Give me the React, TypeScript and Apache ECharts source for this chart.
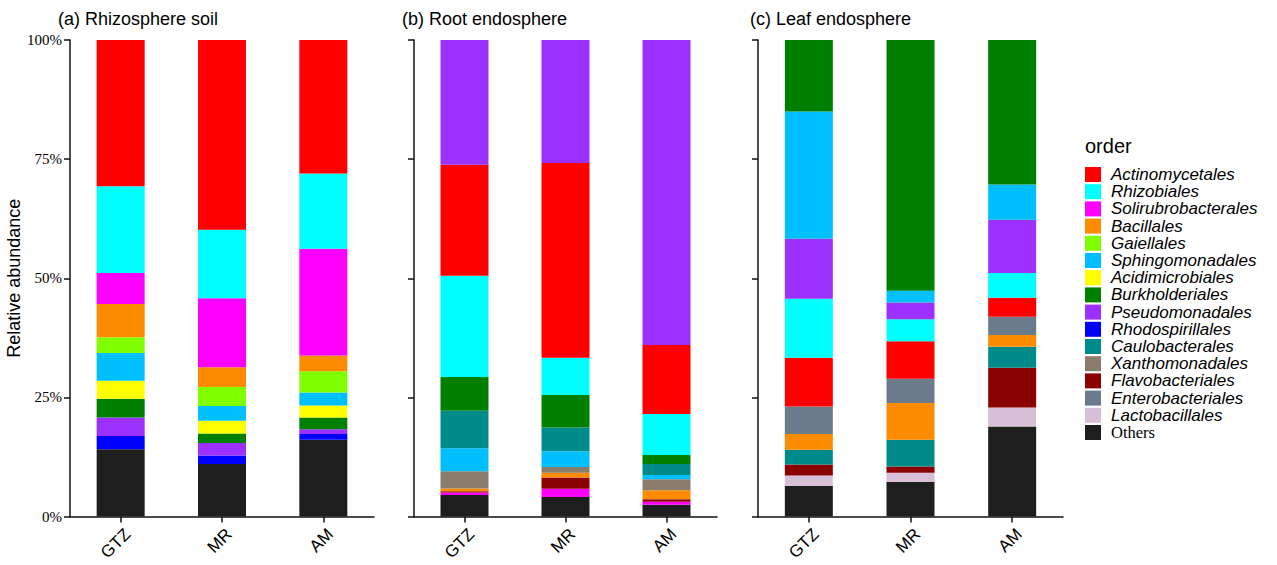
import React, { useEffect, useRef } from "react";
import * as echarts from "echarts";

const categories = ["GTZ", "MR", "AM"];
const yTicks = [0, 25, 50, 75, 100];
const panelTitles = ["(a) Rhizosphere soil", "(b) Root endosphere", "(c) Leaf endosphere"];

const legendOrders = [
  "Actinomycetales", "Rhizobiales", "Solirubrobacterales", "Bacillales", "Gaiellales",
  "Sphingomonadales", "Acidimicrobiales", "Burkholderiales", "Pseudomonadales",
  "Rhodospirillales", "Caulobacterales", "Xanthomonadales", "Flavobacteriales",
  "Enterobacteriales", "Lactobacillales", "Others",
];
const orderColors = [
  "#FF0000", "#00FFFF", "#FF00FF", "#FF8C00", "#7FFF00",
  "#00BFFF", "#FFFF00", "#008000", "#9B30FF",
  "#0000FF", "#008B8B", "#8B7D6B", "#8B0000",
  "#6C7B8B", "#D8BFD8", "#1E1E1E",
];

// stacking order bottom-up, values for GTZ, MR, AM (%)
const soilNames = ["Others", "Rhodospirillales", "Pseudomonadales", "Burkholderiales", "Acidimicrobiales",
  "Sphingomonadales", "Gaiellales", "Bacillales", "Solirubrobacterales", "Rhizobiales", "Actinomycetales"];
const soilValues = [
  [14.1, 11.0, 16.1], [2.8, 1.8, 1.2], [3.9, 2.6, 1.0], [3.9, 2.0, 2.5], [3.8, 2.7, 2.5],
  [5.8, 3.1, 2.7], [3.3, 4.0, 4.5], [7.0, 4.1, 3.3], [6.5, 14.5, 22.4], [18.2, 14.4, 15.8], [30.7, 39.8, 28.0],
];

const rootNames = ["Others", "Solirubrobacterales", "Flavobacteriales", "Bacillales", "Xanthomonadales",
  "Sphingomonadales", "Caulobacterales", "Burkholderiales", "Rhizobiales", "Actinomycetales", "Pseudomonadales"];
const rootValues = [
  [4.5, 4.1, 2.45], [0.55, 1.7, 0.65], [0.25, 2.4, 0.5], [0.6, 1.0, 1.9], [3.6, 1.2, 2.3],
  [4.8, 3.3, 0.9], [7.9, 5.0, 2.3], [7.1, 6.8, 1.9], [21.2, 7.8, 8.6], [23.3, 40.9, 14.5], [26.2, 25.8, 64.0],
];

const leafNames = ["Others", "Lactobacillales", "Flavobacteriales", "Caulobacterales", "Bacillales",
  "Enterobacteriales", "Actinomycetales", "Rhizobiales", "Pseudomonadales", "Sphingomonadales", "Burkholderiales"];
const leafValues = [
  [6.4, 7.3, 18.9], [2.2, 1.9, 4.0], [2.3, 1.3, 8.3], [3.1, 5.6, 4.4], [3.3, 7.7, 2.5],
  [5.8, 5.1, 3.8], [10.2, 7.9, 4.0], [12.4, 4.6, 5.2], [12.6, 3.5, 11.2], [26.7, 2.5, 7.4], [15.0, 52.6, 30.3],
];

const SANS = "'Liberation Sans', Arial, sans-serif";
const SERIF = "'Liberation Serif', 'Times New Roman', serif";

export default function App() {
  const ref = useRef<HTMLDivElement>(null);
  useEffect(() => {
    document.body.style.margin = "0";
    if (!ref.current) return;
    const chart = echarts.init(ref.current, undefined, { renderer: "svg" });
    const gridLefts = [70, 414, 758];
    const gridWidths = [304, 303, 305];
    const panels = [
      { names: soilNames, values: soilValues },
      { names: rootNames, values: rootValues },
      { names: leafNames, values: leafValues },
    ];
    const colorOf = (n: string) => orderColors[legendOrders.indexOf(n)];
    const series: any[] = [];
    panels.forEach((p, i) => {
      p.names.forEach((n, k) => {
        series.push({
          type: "bar",
          name: n,
          xAxisIndex: i,
          yAxisIndex: i,
          stack: "s" + i,
          barWidth: 48,
          data: p.values[k],
          itemStyle: { color: colorOf(n) },
        });
      });
    });
    const axisLine = { show: true, lineStyle: { color: "#111", width: 1.5 } };
    chart.setOption({
      animation: false,
      grid: gridLefts.map((l, i) => ({ left: l, width: gridWidths[i], top: 40, bottom: 48.5 })),
      xAxis: gridLefts.map((_, i) => ({
        type: "category",
        gridIndex: i,
        data: categories,
        axisLine,
        axisTick: { show: true, alignWithLabel: true, length: 6, lineStyle: { color: "#111", width: 1.5 } },
        axisLabel: { rotate: 45, fontSize: 17, color: "#000", fontFamily: SANS, margin: 22, padding: [0, -10, 0, 0] },
      })),
      yAxis: gridLefts.map((_, i) => ({
        type: "value",
        gridIndex: i,
        min: yTicks[0],
        max: yTicks[yTicks.length - 1],
        interval: 25,
        axisLine,
        axisTick: { show: true, length: 6, lineStyle: { color: "#111", width: 1.5 } },
        splitLine: { show: false },
        axisLabel: {
          show: i === 0,
          formatter: "{value}%",
          fontSize: 15,
          color: "#000",
          fontFamily: SERIF,
          margin: 8,
        },
        name: i === 0 ? "Relative abundance" : "",
        nameLocation: "middle",
        nameGap: 44,
        nameTextStyle: { fontSize: 18, color: "#000", fontFamily: SANS },
      })),
      legend: {
        orient: "vertical",
        left: 1085,
        top: 166,
        padding: 0,
        data: legendOrders,
        itemWidth: 16,
        itemHeight: 15,
        itemGap: 0.2,
        icon: "rect",
        selectedMode: false,
        formatter: (n: string) => (n === "Others" ? `{o|${n}}` : `{i|${n}}`),
        textStyle: {
          color: "#000",
          fontSize: 17,
          rich: {
            i: { fontSize: 17, fontStyle: "italic", fontFamily: SANS, color: "#000", padding: [0, 0, 0, 5] },
            o: { fontSize: 16.5, fontFamily: SERIF, color: "#000", padding: [0, 0, 0, 5] },
          },
        },
      },
      graphic: [
        ...panelTitles.map((t, i) => ({
          type: "text",
          left: [58, 402, 750][i],
          top: 10,
          style: { text: t, fontSize: 18, fill: "#000", fontFamily: SANS },
        })),
        {
          type: "text",
          left: 1085,
          top: 136,
          style: { text: "order", fontSize: 20, fill: "#000", fontFamily: SANS },
        },
      ],
      series,
    });
    return () => chart.dispose();
  }, []);
  return <div ref={ref} style={{ width: 1277, height: 565 }} />;
}
